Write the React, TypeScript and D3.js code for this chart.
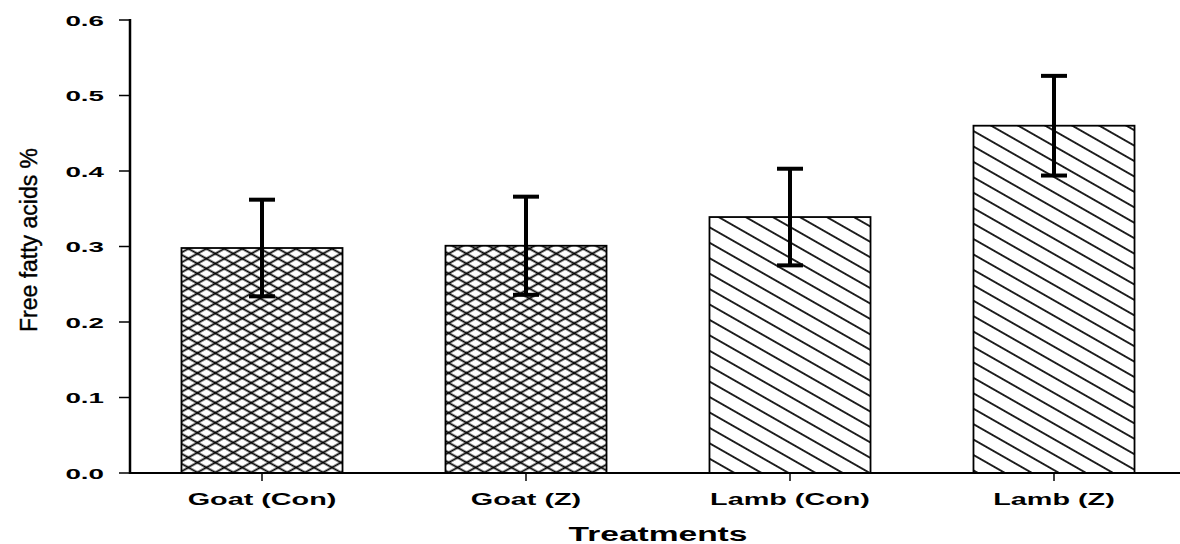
import React from "react";
import * as d3 from "d3";

const categories = ["Goat (Con)", "Goat (Z)", "Lamb (Con)", "Lamb (Z)"];
const means = [0.298, 0.301, 0.339, 0.46];
const errors = [0.064, 0.065, 0.064, 0.066];
const patterns = ["cross", "cross", "diag", "diag"];
const yTicks = [0, 0.1, 0.2, 0.3, 0.4, 0.5, 0.6];

const W = 1180;
const H = 544;
const FONT = "'Liberation Sans', Arial, sans-serif";

export default function App() {
  const x = d3
    .scaleBand<string>()
    .domain(categories)
    .range([130, 1186])
    .paddingInner(0.39)
    .paddingOuter(0.195);
  const y = d3.scaleLinear().domain([0, 0.6]).range([473, 20]);
  const fmt = d3.format(".1f");
  const bw = x.bandwidth();

  return (
    <svg
      width={W}
      height={H}
      style={{ position: "absolute", left: 0, top: 0, background: "#fff" }}
    >
      <defs>
        <pattern
          id="hatchA"
          patternUnits="userSpaceOnUse"
          width={10}
          height={8.7}
          patternTransform="rotate(29)"
        >
          <line x1={-1} x2={11} y1={4.35} y2={4.35} stroke="#000" strokeWidth={1.8} />
        </pattern>
        <pattern
          id="hatchB"
          patternUnits="userSpaceOnUse"
          width={10}
          height={8.7}
          patternTransform="rotate(-29)"
        >
          <line x1={-1} x2={11} y1={4.35} y2={4.35} stroke="#000" strokeWidth={1.8} />
        </pattern>
        <pattern
          id="diag"
          patternUnits="userSpaceOnUse"
          width={10}
          height={13.4}
          patternTransform="rotate(29.7)"
        >
          <line x1={-1} x2={11} y1={6.7} y2={6.7} stroke="#000" strokeWidth={1.7} />
        </pattern>
      </defs>

      {/* bars */}
      {categories.map((c, i) => {
        const bx = x(c)!;
        const by = y(means[i]);
        const bh = y(0) - by;
        return (
          <g key={c}>
            <rect x={bx} y={by} width={bw} height={bh} fill="#fff" />
            {patterns[i] === "cross" ? (
              <>
                <rect x={bx} y={by} width={bw} height={bh} fill="url(#hatchA)" />
                <rect x={bx} y={by} width={bw} height={bh} fill="url(#hatchB)" />
              </>
            ) : (
              <rect x={bx} y={by} width={bw} height={bh} fill="url(#diag)" />
            )}
            <rect
              x={bx}
              y={by}
              width={bw}
              height={bh}
              fill="none"
              stroke="#000"
              strokeWidth={1.8}
            />
          </g>
        );
      })}

      {/* error bars */}
      {categories.map((c, i) => {
        const cx = x(c)! + bw / 2;
        const top = y(means[i] + errors[i]);
        const bot = y(means[i] - errors[i]);
        return (
          <g key={"e" + c} stroke="#000" strokeWidth={4}>
            <line x1={cx} x2={cx} y1={top} y2={bot} />
            <line x1={cx - 13} x2={cx + 13} y1={top} y2={top} />
            <line x1={cx - 13} x2={cx + 13} y1={bot} y2={bot} />
          </g>
        );
      })}

      {/* x axis */}
      <line x1={129} x2={W} y1={y(0)} y2={y(0)} stroke="#000" strokeWidth={2} />
      {categories.map((c) => {
        const cx = x(c)! + bw / 2;
        return (
          <g key={"xt" + c}>
            <line x1={cx} x2={cx} y1={y(0)} y2={y(0) + 8} stroke="#000" strokeWidth={1.5} />
            <text
              transform={`translate(${cx},${y(0) + 32}) scale(1.8,1)`}
              textAnchor="middle"
              fontFamily={FONT}
              fontWeight="bold"
              fontSize={16}
              fill="#000"
            >
              {c}
            </text>
          </g>
        );
      })}

      {/* y axis */}
      <line x1={130} x2={130} y1={y(0.6) - 1} y2={y(0) + 1} stroke="#000" strokeWidth={2.5} />
      {yTicks.map((t) => (
        <g key={"yt" + t}>
          <line x1={119} x2={130} y1={y(t)} y2={y(t)} stroke="#000" strokeWidth={1.5} />
          <text
            transform={`translate(104,${y(t) + 5.5}) scale(1.85,1)`}
            textAnchor="end"
            fontFamily={FONT}
            fontWeight="bold"
            fontSize={15}
            fill="#000"
          >
            {fmt(t)}
          </text>
        </g>
      ))}

      {/* axis titles */}
      <text
        transform={`translate(658,541) scale(1.72,1)`}
        textAnchor="middle"
        fontFamily={FONT}
        fontWeight="bold"
        fontSize={19.5}
        fill="#000"
      >
        Treatments
      </text>
      <text
        transform={`translate(37,240) rotate(-90)`}
        textAnchor="middle"
        fontFamily={FONT}
        fontSize={23}
        stroke="#000"
        strokeWidth={0.4}
        fill="#000"
      >
        Free fatty acids %
      </text>
    </svg>
  );
}
